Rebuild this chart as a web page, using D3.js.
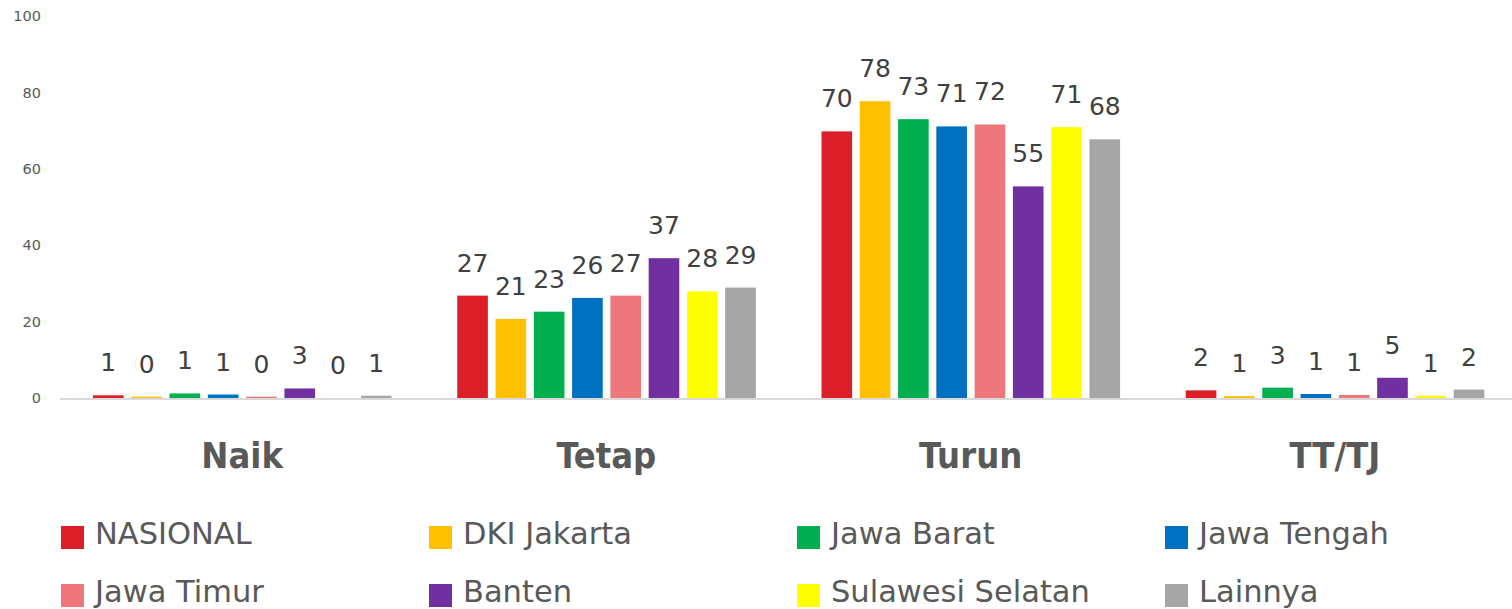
<!DOCTYPE html>
<html>
<head>
<meta charset="utf-8">
<script src="https://cdn.jsdelivr.net/npm/d3@7"></script>
<style>
  html, body { margin: 0; padding: 0; background: #fff; }
  svg { display: block; font-family: "DejaVu Sans", sans-serif; }
</style>
</head>
<body>
<svg id="chart" width="1512" height="609"></svg>
<script>
// categories on the x axis
var categories = ["Naik", "Tetap", "Turun", "TT/TJ"];

// one entry per region, values per category
var seriesNames = ["NASIONAL", "DKI Jakarta", "Jawa Barat", "Jawa Tengah", "Jawa Timur", "Banten", "Sulawesi Selatan", "Lainnya"];
var nasional   = [0.7, 26.8, 69.8, 2.0];
var dkiJakarta = [0.35, 20.7, 77.7, 0.5];
var jawaBarat  = [1.2, 22.6, 73.0, 2.7];
var jawaTengah = [0.9, 26.2, 71.1, 1.05];
var jawaTimur  = [0.35, 26.8, 71.6, 0.8];
var banten     = [2.5, 36.6, 55.4, 5.3];
var sulSel     = [0.0, 27.9, 70.9, 0.6];
var lainnya    = [0.6, 28.9, 67.7, 2.2];
var seriesValues = [nasional, dkiJakarta, jawaBarat, jawaTengah, jawaTimur, banten, sulSel, lainnya];

var colors = ["#DA1F28", "#FFC000", "#00B050", "#0070C0", "#ED777A", "#7030A0", "#FFFF00", "#A5A5A5"];
var yTicks = [0, 20, 40, 60, 80, 100];

var svg = d3.select("#chart");

var x0 = d3.scaleBand()
  .domain(categories)
  .range([60, 1517])
  .padding(0);

var x1 = d3.scaleBand()
  .domain(seriesNames)
  .range([33, 331.6])
  .paddingInner(0.2)
  .paddingOuter(0);

var y = d3.scaleLinear()
  .domain([0, 100])
  .range([398, 16]);

var color = d3.scaleOrdinal()
  .domain(seriesNames)
  .range(colors);

// y axis labels only, no line or ticks
var yAxis = d3.axisLeft(y)
  .tickValues(yTicks)
  .tickSize(0)
  .tickPadding(0);

var yg = svg.append("g")
  .attr("transform", "translate(41,0)")
  .call(yAxis);
yg.select(".domain").remove();
yg.selectAll("text")
  .attr("fill", "#595959")
  .style("font-size", "14.5px")
  .style("font-family", "'DejaVu Sans', sans-serif");

// bars
var rows = [];
seriesNames.forEach(function(s, i) {
  categories.forEach(function(c, j) {
    rows.push({ series: s, cat: c, value: seriesValues[i][j] });
  });
});

var groups = svg.selectAll(".grp")
  .data(categories)
  .enter()
  .append("g")
  .attr("class", "grp")
  .attr("transform", function(d) { return "translate(" + x0(d) + ",0)"; });

groups.selectAll("rect")
  .data(function(c) { return rows.filter(function(r) { return r.cat == c; }); })
  .enter()
  .append("rect")
  .attr("x", function(d) { return x1(d.series); })
  .attr("width", x1.bandwidth())
  .attr("y", function(d) { return y(d.value); })
  .attr("height", function(d) { return y(0) - y(d.value); })
  .attr("fill", function(d) { return color(d.series); });

groups.selectAll(".val")
  .data(function(c) { return rows.filter(function(r) { return r.cat == c; }); })
  .enter()
  .append("text")
  .attr("class", "val")
  .attr("x", function(d) { return x1(d.series) + x1.bandwidth() / 2; })
  .attr("y", function(d) { return y(d.value) - 24; })
  .attr("text-anchor", "middle")
  .attr("fill", "#404040")
  .style("font-size", "25px")
  .text(function(d) { return Math.round(d.value); });

// baseline
svg.append("line")
  .attr("x1", 60)
  .attr("x2", 1512)
  .attr("y1", y(0) + 1)
  .attr("y2", y(0) + 1)
  .attr("stroke", "#D9D9D9")
  .attr("stroke-width", 2);

// category labels
svg.selectAll(".cat")
  .data(categories)
  .enter()
  .append("text")
  .attr("class", "cat")
  .attr("x", function(d) { return x0(d) + x0.bandwidth() / 2; })
  .attr("y", 468)
  .attr("text-anchor", "middle")
  .attr("fill", "#595959")
  .style("font-family", "'DejaVu Sans Condensed', 'DejaVu Sans', sans-serif")
  .style("font-size", "36px")
  .style("font-weight", "bold")
  .text(function(d) { return d; });

// legend, 4 columns x 2 rows
var legend = svg.selectAll(".leg")
  .data(seriesNames)
  .enter()
  .append("g")
  .attr("class", "leg")
  .attr("transform", function(d, i) {
    return "translate(" + (61 + (i % 4) * 368) + "," + (526 + Math.floor(i / 4) * 58) + ")";
  });

legend.append("rect")
  .attr("width", 23)
  .attr("height", 23)
  .attr("fill", function(d) { return color(d); });

legend.append("text")
  .attr("x", 34)
  .attr("y", 18)
  .attr("fill", "#595959")
  .style("font-size", "30.5px")
  .text(function(d) { return d; });
</script>
</body>
</html>
